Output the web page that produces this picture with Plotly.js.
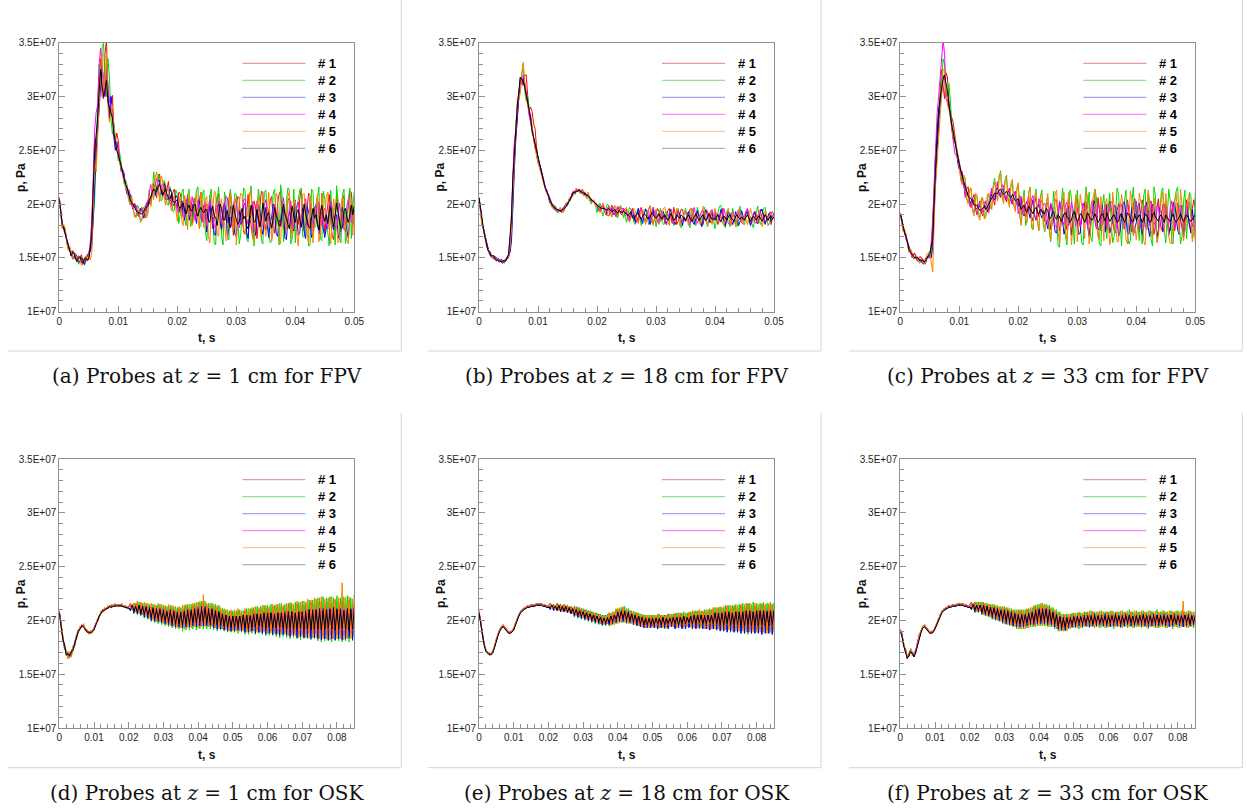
<!DOCTYPE html>
<html>
<head>
<meta charset="utf-8">
<script src="https://cdn.plot.ly/plotly-3.0.1.min.js"></script>
<style>
html, body { margin: 0; padding: 0; background: #ffffff; }
#chart { width: 1247px; height: 810px; }
</style>
</head>
<body>
<div id="chart"></div>
<script>
// Pressure histories at six probes, stored in bar (1 bar = 1e5 Pa).
// FPV runs are sampled every 0.25 ms, OSK runs every 0.5 ms.
const probeNames = ['# 1', '# 2', '# 3', '# 4', '# 5', '# 6'];
const dtFPV = 0.00025;
const dtOSK = 0.0005;

const captions = [
  '(a) Probes at <i>z</i> = 1 cm for FPV',
  '(b) Probes at <i>z</i> = 18 cm for FPV',
  '(c) Probes at <i>z</i> = 33 cm for FPV',
  '(d) Probes at <i>z</i> = 1 cm for OSK',
  '(e) Probes at <i>z</i> = 18 cm for OSK',
  '(f) Probes at <i>z</i> = 33 cm for OSK'
];
const yTickVals = [1e7, 1.5e7, 2e7, 2.5e7, 3e7, 3.5e7];
const yTickText = ['1E+07', '1.5E+07', '2E+07', '2.5E+07', '3E+07', '3.5E+07'];
const xTitle = 't, s';
const yTitle = 'p, Pa';

// ---- FPV, z = 1 cm ----
const fpv_z1_1 = [206,196,182,178,173,168,162,158,152,156,155,149,146,152,150,153,145,148,151,147,
  149,158,186,215,262,240,275,310,335,300,298,340,352,305,283,296,301,270,258,266,
  259,242,236,230,226,219,212,214,207,203,199,201,196,194,190,195,197,189,187,196,
  201,205,199,213,219,210,206,224,228,213,210,220,204,214,221,206,200,211,214,201,
  196,211,210,194,203,187,199,209,193,202,182,197,206,189,188,204,211,195,183,198,
  200,184,208,193,177,186,195,207,210,189,174,196,202,185,183,205,212,194,171,188,
  199,207,206,181,188,174,172,195,209,191,180,170,203,198,168,187,197,212,211,183,
  176,198,190,203,207,185,173,180,201,209,212,196,178,172,185,203,206,194,169,190,
  204,187,181,205,213,191,175,183,196,210,208,179,170,186,199,207,184,172,210,194,
  173,188,202,209,187,170,167,193,209,197,181,174,205,208,174,189,198,212,211,190, 179];
const fpv_z1_2 = [204,193,178,180,176,165,158,160,156,151,149,153,151,144,146,150,150,143,147,152,
  154,160,168,190,205,250,290,330,318,345,350,310,300,335,318,280,265,275,262,248,
  240,247,238,225,219,222,218,206,202,208,200,188,190,199,196,183,186,197,198,188,
  192,213,201,207,230,216,209,228,224,203,205,222,218,200,199,216,212,193,194,213,
  209,182,190,211,214,186,180,207,214,179,185,205,192,213,216,178,180,209,213,175,
  166,190,207,214,188,164,162,201,216,197,171,162,211,205,170,167,214,198,175,210,
  209,186,163,172,197,215,212,168,165,205,217,190,161,178,200,214,202,166,163,211,
  213,189,172,164,166,210,214,183,191,162,218,209,165,174,203,215,212,163,170,214,
  164,195,206,213,215,170,169,201,199,161,162,214,212,178,180,206,216,168,166,212,
  205,182,174,161,213,190,196,162,217,203,168,164,208,214,163,172,206,215,168,200, 211];
const fpv_z1_3 = [205,194,181,179,175,166,159,158,155,149,150,154,151,146,147,150,149,144,150,153,
  153,157,160,185,228,250,268,290,312,330,308,300,325,295,279,300,288,262,250,258,
  248,238,230,232,228,215,209,212,209,200,195,199,198,190,188,196,194,187,191,200,
  203,200,204,212,215,208,214,222,222,211,208,219,217,205,204,214,211,199,199,208,
  206,192,198,203,188,185,204,198,185,194,200,187,191,182,198,203,187,184,199,195,
  174,186,199,190,186,172,171,197,200,183,177,190,201,193,169,178,198,196,181,172,
  170,189,194,182,183,199,201,174,168,186,190,199,174,171,185,199,194,178,172,186,
  197,180,169,183,188,200,193,173,170,185,183,198,196,169,167,188,191,199,178,175,
  201,187,171,173,189,196,175,168,198,193,186,169,172,196,199,183,172,189,193,177,
  169,178,184,197,200,181,176,189,190,171,167,193,197,185,182,175,168,190,195,181, 195];
const fpv_z1_4 = [203,192,180,176,171,166,163,159,154,157,155,149,148,151,150,145,144,148,149,152,
  151,165,178,225,270,285,292,330,345,325,318,300,330,310,296,290,285,265,256,252,
  250,240,233,231,226,216,211,212,208,201,196,200,199,191,188,194,195,190,192,201,
  202,211,218,208,213,220,224,214,207,215,219,211,205,207,209,202,198,205,207,201,
  193,203,206,194,188,196,201,206,196,189,207,200,185,192,204,198,190,183,198,202,
  180,194,204,197,192,180,177,193,203,196,185,180,199,207,206,189,188,179,200,205,
  201,188,178,185,194,204,205,187,181,190,196,202,176,182,203,195,189,178,180,199,
  204,193,185,178,177,196,200,190,193,181,179,194,206,191,184,179,198,203,175,186,
  187,198,202,189,178,186,199,205,184,176,205,196,176,183,193,201,201,187,180,194,
  196,183,177,189,203,197,186,178,179,193,201,185,190,176,177,199,204,193,183,190, 183];
const fpv_z1_5 = [207,190,177,181,177,166,157,161,153,149,152,154,146,151,150,143,145,150,152,148,
  152,148,155,200,242,230,265,300,325,340,305,318,338,290,276,285,292,271,260,252,
  245,238,232,224,220,215,213,203,199,206,199,190,187,195,193,184,185,193,195,187,
  191,208,198,219,204,225,230,212,202,226,223,207,199,212,215,200,194,203,208,196,
  184,200,207,185,180,208,199,176,209,203,180,185,202,210,185,177,210,199,178,205,
  207,171,164,190,193,212,211,172,170,199,205,181,183,166,167,195,210,188,176,206,
  162,185,202,210,209,176,173,194,188,211,212,168,165,190,199,207,178,169,208,181,
  170,196,211,186,166,174,194,210,207,169,163,197,201,184,174,207,212,179,168,203,
  203,172,161,185,190,209,210,184,172,163,206,195,164,188,197,209,165,174,209,190,
  184,207,211,176,163,185,205,192,176,164,168,199,208,187,181,167,163,196,204,171, 204];
const fpv_z1_6 = [205,194,181,178,173,167,161,158,152,155,154,150,147,150,151,147,145,149,150,148,
  150,160,172,215,250,265,280,305,325,310,300,305,315,295,290,283,280,266,257,250,
  246,240,235,229,222,218,215,209,204,201,200,197,194,193,192,191,191,192,196,197,
  198,204,206,211,214,212,212,216,219,213,208,211,214,209,206,205,209,203,201,203,
  204,198,196,199,201,193,191,196,199,194,194,198,200,192,189,194,197,193,192,195,
  195,185,183,193,198,189,188,180,190,200,196,186,185,192,194,182,178,189,199,191,
  186,181,183,192,196,186,189,180,177,190,199,193,183,184,195,187,179,186,201,192,
  184,190,192,183,178,187,197,189,186,180,180,192,200,190,187,181,177,191,198,188,
  183,192,195,186,179,186,200,191,185,179,178,190,196,187,190,181,176,193,199,189,
  184,190,182,193,197,186,179,189,201,192,185,177,178,194,196,187,183,191,199,190, 199];

// ---- FPV, z = 18 cm ----
const fpv_z18_1 = [205,197,184,175,169,164,159,154,151,152,152,148,147,149,148,146,145,147,148,150,
  150,156,182,220,255,262,280,300,318,314,310,320,320,301,287,290,286,275,270,253,
  242,238,232,225,220,214,212,209,202,200,200,195,196,193,195,194,192,197,198,200,
  199,204,206,207,211,212,214,213,211,210,214,210,208,206,210,203,204,202,203,199,
  198,199,193,196,198,194,195,190,189,193,199,196,192,188,197,196,191,190,196,194,
  195,187,185,191,196,192,184,183,190,194,197,189,186,183,192,195,198,188,182,186,
  191,196,193,185,185,190,182,187,194,196,188,182,197,191,181,184,190,195,195,187,
  184,186,189,195,196,189,182,188,193,190,186,180,181,191,195,193,188,183,183,190,
  194,186,181,185,192,196,187,180,186,193,189,183,192,188,181,186,194,191,183,189,
  185,193,195,184,182,188,188,193,190,182,186,194,194,187,181,186,189,192,181,187, 189];
const fpv_z18_2 = [204,195,181,178,172,162,157,156,154,150,150,150,149,147,148,149,147,145,148,149,
  153,158,170,210,235,275,292,298,305,322,330,305,296,300,290,280,266,262,257,245,
  238,236,230,228,218,215,210,208,205,198,196,199,198,192,192,197,195,193,196,201,
  201,202,203,210,212,209,211,214,213,210,210,212,209,205,206,207,200,204,201,199,
  192,197,201,195,189,194,196,200,199,192,188,195,197,190,187,196,199,193,187,192,
  183,190,197,195,190,183,181,192,196,188,180,186,194,196,188,181,186,193,197,190,
  179,186,192,196,185,181,182,193,189,183,195,188,180,186,193,196,186,178,183,192,
  196,189,183,178,189,196,187,180,197,192,181,183,191,197,184,179,185,193,194,186,
  177,186,193,198,199,188,182,178,190,196,179,186,196,189,185,179,192,198,183,182,
  181,190,195,190,188,182,178,186,194,198,184,181,191,196,197,186,180,183,190,193, 190];
const fpv_z18_3 = [206,197,183,177,170,165,159,154,152,150,149,151,150,147,146,148,148,146,147,149,
  152,155,165,205,232,262,285,300,315,312,318,308,302,296,285,280,272,260,252,250,
  243,237,233,227,219,215,213,206,201,201,199,196,194,195,195,193,194,195,196,198,
  199,203,205,209,211,210,212,212,213,211,211,208,210,209,209,205,203,203,202,200,
  199,194,195,197,200,195,190,193,197,193,196,190,193,195,189,196,197,192,194,191,
  192,189,187,193,195,187,183,190,196,189,186,182,191,195,193,186,181,190,195,188,
  194,188,182,186,191,193,186,181,186,192,195,189,184,181,188,194,191,185,180,188,
  184,190,193,186,188,183,181,187,194,189,185,179,186,193,194,187,183,188,192,185,
  190,186,183,188,195,191,184,180,188,192,192,187,181,186,193,189,180,184,194,189,
  187,191,193,186,180,183,191,193,185,182,188,195,195,188,182,186,190,192,184,188, 191];
const fpv_z18_4 = [203,196,186,176,171,164,157,156,153,151,151,148,148,150,148,146,145,147,149,151,
  153,165,190,228,258,270,290,305,312,318,320,314,304,290,282,276,270,264,255,246,
  240,236,230,226,222,214,210,209,205,202,199,198,197,193,194,195,194,196,197,200,
  201,203,204,210,212,211,212,213,214,212,211,210,211,207,208,206,205,203,202,201,
  200,196,195,198,199,193,192,196,198,191,194,197,190,195,198,194,191,196,196,193,
  192,186,184,192,195,190,189,184,184,192,196,189,187,183,193,194,185,183,197,193,
  188,183,185,191,194,188,187,182,185,192,191,186,182,187,195,191,188,183,184,191,
  193,189,186,181,186,193,197,188,182,185,190,194,194,186,184,190,187,192,195,189,
  186,191,191,185,183,189,196,190,189,182,181,189,193,188,187,192,195,186,183,188,
  189,193,196,188,184,187,190,184,182,189,194,192,187,183,191,187,185,190,193,188, 192];
const fpv_z18_5 = [205,193,180,179,171,161,158,157,155,150,149,149,149,148,147,148,146,147,147,150,
  151,160,177,212,240,278,298,296,304,318,332,312,298,292,286,284,273,260,251,247,
  238,234,228,224,218,216,212,207,202,199,197,197,195,194,193,196,195,192,194,199,
  200,205,207,206,208,212,215,212,211,210,213,208,208,206,211,204,202,203,204,198,
  199,197,192,195,201,197,190,189,197,195,188,192,199,196,189,195,198,191,189,195,
  197,190,183,187,191,196,194,185,182,188,194,195,187,181,192,196,199,190,180,187,
  195,187,181,185,190,196,197,188,184,180,193,193,186,183,196,193,180,187,186,191,
  193,186,180,185,196,191,185,188,191,185,182,189,198,192,184,181,190,194,181,187,
  196,189,183,186,189,183,180,187,194,195,186,180,192,188,179,185,195,192,184,181,
  190,185,181,188,196,191,184,187,188,183,193,190,179,185,194,189,185,190,192,186, 190];
const fpv_z18_6 = [206,195,183,177,170,164,157,156,152,152,152,149,148,148,147,147,146,148,147,150,
  153,170,186,225,248,270,292,305,318,316,314,309,302,296,288,280,268,262,254,247,
  241,236,231,226,220,215,211,208,204,201,198,197,196,195,194,194,194,195,196,198,
  200,203,205,208,211,211,212,212,213,212,211,210,210,208,208,206,204,203,202,201,
  199,198,197,196,196,196,195,195,196,194,193,194,195,193,192,194,193,192,193,192,
  191,189,191,193,188,186,189,191,192,188,186,189,191,190,187,186,188,192,191,188,
  187,189,191,188,186,189,190,187,185,187,191,189,185,186,190,188,187,190,189,186,
  185,188,190,187,184,186,189,191,188,185,186,189,190,186,185,189,191,188,186,187,
  185,188,190,186,184,187,189,187,185,188,190,187,185,184,189,190,187,186,188,186,
  185,188,190,187,184,186,189,187,185,188,189,186,184,187,190,187,185,188,189,186, 188];

// ---- FPV, z = 33 cm ----
const fpv_z33_1 = [192,185,179,171,167,164,159,155,151,154,154,148,147,151,151,145,145,149,152,150,
  150,160,182,215,252,260,268,305,325,310,298,322,318,295,283,280,275,262,250,246,
  240,232,230,219,208,214,216,203,197,205,209,196,190,199,203,192,189,198,202,194,
  192,204,213,205,199,212,219,210,206,218,216,206,202,211,215,205,200,210,212,204,
  199,208,190,195,199,186,196,209,193,187,184,200,206,194,188,203,203,190,184,199,
  201,191,176,183,193,204,204,190,175,181,197,203,182,176,205,198,173,182,194,203,
  205,188,179,186,188,202,202,185,172,180,196,204,184,177,206,196,175,183,190,200,
  176,190,203,197,186,175,173,194,201,188,191,178,177,197,204,190,182,174,199,205,
  195,180,174,190,204,196,181,176,190,201,203,186,172,180,197,205,185,176,176,198,
  203,190,179,175,194,202,175,184,201,196,186,177,174,191,204,193,180,175,196,204, 196];
const fpv_z33_2 = [190,184,175,173,171,162,156,158,155,149,150,152,150,145,146,149,146,144,149,153,
  156,152,168,210,250,268,282,300,315,335,330,306,300,312,292,275,268,258,250,240,
  236,228,221,226,224,206,201,213,214,196,192,208,207,190,188,205,204,187,190,206,
  209,196,197,218,224,208,204,225,231,210,203,222,227,206,200,216,221,198,195,213,
  219,188,181,204,213,180,186,210,216,178,176,205,214,182,176,207,213,181,174,200,
  207,175,165,190,212,194,188,161,160,198,215,198,170,162,188,213,207,181,163,195,
  213,187,181,164,162,200,216,196,211,170,165,189,214,205,176,163,161,198,209,182,
  168,196,210,182,164,170,193,215,209,178,161,192,205,213,172,163,166,202,216,190,
  201,183,166,187,163,208,214,176,210,192,167,161,216,207,165,175,197,212,215,175,
  164,190,214,203,165,163,201,212,216,185,163,170,202,213,168,186,211,208,168,172, 211];
const fpv_z33_3 = [191,186,178,173,168,165,160,157,152,150,150,151,149,147,149,149,146,145,150,151,
  152,150,160,195,228,250,278,290,305,318,320,300,296,290,284,270,260,258,254,238,
  232,230,227,218,213,212,209,203,201,205,202,195,196,200,197,192,193,199,198,193,
  196,205,209,206,204,213,215,209,207,214,213,206,205,212,211,203,200,209,208,200,
  198,203,205,191,189,200,202,193,187,198,204,190,185,196,200,191,187,194,190,183,
  177,189,200,195,186,174,173,191,202,196,181,172,178,196,198,185,171,180,195,188,
  184,172,173,192,201,199,189,175,170,181,193,200,203,188,176,177,187,199,184,174,
  200,186,173,179,184,199,198,187,170,175,192,201,202,190,174,172,188,197,171,176,
  183,197,201,186,172,178,195,202,179,170,189,200,197,181,170,176,197,193,174,179,
  199,186,171,178,187,200,202,187,176,172,193,199,169,178,198,190,181,173,195,184, 172];
const fpv_z33_4 = [189,185,180,172,166,163,159,156,150,153,153,149,147,149,148,145,144,148,151,152,
  150,165,180,220,262,285,300,315,330,352,340,298,295,290,280,270,262,247,245,242,
  238,224,219,222,206,211,209,198,197,203,201,194,192,200,199,191,195,202,203,196,
  202,209,215,204,208,219,221,209,207,218,217,208,204,212,213,206,200,208,211,203,
  191,200,207,198,190,200,203,194,195,205,208,190,186,196,205,199,192,200,201,193,
  182,194,201,192,190,180,178,191,203,197,184,181,199,202,180,183,202,196,188,180,
  197,187,179,189,201,195,187,179,181,196,203,189,185,178,200,195,191,181,188,199,
  179,190,198,202,202,188,183,177,193,200,200,184,177,184,200,197,188,181,181,194,
  203,193,186,178,178,194,199,190,192,180,202,197,184,178,197,200,179,186,200,192,
  195,184,181,196,203,191,178,183,190,198,199,186,182,179,187,201,201,188,179,185, 179];
const fpv_z33_5 = [192,183,174,176,172,161,155,158,154,150,149,151,148,146,148,150,146,145,153,155,
  155,146,137,185,222,240,268,282,300,325,325,302,292,288,283,270,262,265,257,245,
  233,222,218,227,224,205,200,214,215,193,189,210,209,188,185,206,206,186,188,209,
  210,198,195,215,220,209,203,227,229,207,200,222,225,203,197,219,223,199,193,215,
  220,190,180,201,208,185,183,211,215,182,177,205,211,185,175,208,210,180,176,201,
  210,177,167,185,191,210,213,174,164,188,206,211,175,166,211,193,162,178,198,209,
  165,190,209,199,188,168,212,206,163,176,200,208,214,184,170,167,207,189,166,201,
  205,183,162,170,211,196,178,165,165,195,209,201,190,167,163,186,212,205,171,180,
  167,180,210,202,197,166,162,188,213,204,176,168,206,192,164,170,190,206,211,172,
  210,193,170,164,163,188,204,210,188,173,214,199,166,176,195,205,209,182,165,184, 164];
const fpv_z33_6 = [191,185,177,173,170,164,157,155,153,152,150,150,150,148,147,148,146,147,150,152,
  154,160,168,205,240,265,288,300,308,316,320,312,305,292,280,272,266,258,251,244,
  237,231,225,221,217,211,207,206,205,202,199,199,199,196,194,195,197,198,195,197,
  200,203,205,208,210,210,210,213,214,211,209,210,212,209,207,206,209,206,203,204,
  205,199,195,198,199,194,193,198,196,193,191,195,197,192,191,195,194,191,192,196,
  194,186,187,192,193,187,186,190,188,184,186,191,192,188,187,183,185,191,193,188,
  184,186,191,190,186,183,187,192,189,186,185,189,191,187,183,185,190,191,187,184,
  192,188,184,186,189,190,186,183,184,190,191,187,183,186,192,190,186,184,184,191,
  185,188,190,187,183,186,191,189,187,183,184,190,192,188,186,184,189,190,186,183,
  190,187,185,184,188,191,186,183,185,189,191,187,184,187,190,188,185,184,186,189, 190];

// ---- OSK, z = 1 cm ----
const osk_z1_1 = [209,194,186,173,172,165,170,167,176,177,187,189,194,194,196,191,191,188,190,189,193,195,201,203,208,208,211,210,213,212,214,213,215,213,215,213,215,212,214,211,213,
  216,210,216,208,217,207,216,206,215,205,214,204, 214,202,213,201,214,200,213,199,212,198,213,197, 212,196,211,195,211,195,212,194,213,195,213,195, 214,196,215,195,216,196,217,196,214,196,214,195,
  213,195,212,194,210,194,209,193,208,192,208,192, 208,192,209,192,207,192,209,191,209,191,210,192, 211,191,210,191,212,191,212,190,211,190,213,190, 213,189,214,189,212,189,214,188,215,188,213,188,
  215,187,216,187,214,187,216,188,217,188,215,188, 217,187,218,186,216,187,218,187,217,186,219,187, 217,187,218,186,217,188,219,187,216,186,218,187];
const osk_z1_2 = [207,198,181,179,167,171,165,173,171,182,183,192,192,196,194,193,189,190,188,191,191,197,199,205,206,210,209,212,211,214,212,215,213,215,213,215,213,214,212,213,211,
  209,215,206,216,205,217,204,216,202,216,201,215, 199,215,198,214,197,215,196,214,195,213,194,214, 193,213,192,212,192,212,190,214,191,215,191,215, 192,216,191,217,192,218,192,218,192,216,192,216,
  191,215,190,214,191,211,190,210,189,209,189,209, 189,209,188,210,189,209,187,211,187,211,188,212, 187,213,188,213,187,214,186,214,186,215,186,214, 185,215,184,216,185,215,184,216,183,216,184,217,
  183,217,182,218,183,217,183,219,182,219,183,220, 181,221,180,222,181,221,181,222,180,221,181,223, 181,221,180,222,181,223,180,221,181,224,180,222];
const osk_z1_3 = [208,195,185,175,171,167,169,169,175,178,186,190,193,195,195,192,190,189,189,190,192,196,200,204,207,209,210,211,212,213,213,214,214,214,214,214,214,213,213,212,212,
  209,213,207,213,206,214,205,213,203,213,202,212, 200,212,199,211,199,211,198,210,197,209,196,210, 195,209,194,208,194,208,193,209,194,210,194,210, 195,211,194,212,195,213,195,213,195,211,195,211,
  193,209,192,208,192,206,191,205,190,204,190,204, 190,204,191,204,190,203,189,205,189,205,190,206, 188,206,189,206,188,205,187,207,188,207,187,206, 187,207,186,207,187,208,186,208,185,208,186,207,
  184,208,185,208,184,209,184,210,183,210,184,209, 183,211,182,211,183,210,182,211,183,212,182,211, 183,211,182,210,183,211,184,211,182,212,183,210];
const osk_z1_4 = [208,197,183,177,169,170,166,172,173,180,184,191,192,196,194,193,190,189,188,190,192,197,200,204,206,210,210,211,211,213,212,214,213,214,214,213,214,212,213,211,212,
  214,210,214,208,215,207,214,206,213,205,212,204, 212,202,211,201,212,200,211,199,210,198,210,198, 209,197,208,196,208,196,209,195,210,196,210,196, 211,197,212,196,213,197,213,197,211,197,211,197,
  210,196,209,195,207,195,206,194,205,193,205,193, 205,193,206,193,205,192,206,192,206,193,207,193, 208,192,207,192,208,193,208,192,209,192,208,191, 209,191,210,191,209,192,210,190,211,190,210,191,
  210,190,211,189,210,190,212,190,211,189,212,190, 213,189,212,190,213,189,214,189,213,190,212,189, 213,189,214,190,213,188,212,189,213,190,214,189];
const osk_z1_5 = [209,195,186,174,173,164,171,166,177,176,188,188,195,193,197,190,192,187,191,188,194,195,202,202,209,207,212,210,214,212,215,213,216,213,215,214,216,212,214,212,213,
  216,210,216,208,218,206,217,205,217,203,216,202, 216,200,215,199,216,198,215,197,214,196,215,195, 214,194,213,193,213,193,214,192,215,193,215,193, 216,194,217,193,218,194,224,194,216,194,216,194,
  215,193,214,192,212,192,211,191,210,190,210,190, 210,190,211,190,209,190,211,189,211,189,212,190, 213,189,212,189,214,189,214,188,213,188,215,188, 215,187,216,187,214,187,216,186,217,186,215,186,
  218,184,217,185,218,184,220,184,219,184,221,184, 221,183,222,183,220,183,221,182,222,183,220,183, 221,183,235,182,221,183,222,183,220,184,221,183];
const osk_z1_6 = [207,196,183,177,168,169,167,171,173,179,184,190,192,195,194,192,189,189,188,190,191,196,199,204,206,209,209,211,211,213,212,213,213,214,213,214,213,213,212,212,211,
  210,214,209,213,208,214,207,213,206,212,205,211, 203,211,202,210,202,210,201,209,200,208,199,209, 198,208,197,207,197,207,196,208,197,209,197,209, 198,210,198,210,199,211,199,211,198,210,198,210,
  197,209,196,208,196,206,195,205,194,204,194,204, 194,204,195,204,194,205,193,205,193,204,194,206, 194,206,195,206,194,207,193,207,194,207,193,206, 193,207,194,207,193,206,192,208,193,208,192,207,
  192,208,193,208,192,207,192,210,191,209,192,210, 192,210,191,209,192,210,193,210,192,211,191,210, 192,210,193,209,192,210,191,210,192,211,192,210];

// ---- OSK, z = 18 cm ----
const osk_z18_1 = [209,196,187,177,173,169,170,168,172,175,183,186,192,193,196,192,192,188,190,189,193,196,202,204,209,209,212,211,214,212,215,213,215,214,216,214,216,213,215,212,214,
  216,212,215,211,216,210,215,209,215,209,214,208, 213,207,213,205,212,204,211,203,210,202,209,201, 208,200,207,199,206,198,205,197,205,197,207,197, 208,198,210,200,211,201,211,201,210,200,209,199,
  208,198,207,197,206,196,205,195,205,195,205,195, 205,195,206,195,205,196,205,195,206,195,206,196, 206,196,207,196,206,195,206,196,207,197,208,196, 208,196,209,196,208,195,209,195,210,195,211,195,
  211,195,212,195,212,194,213,194,212,194,213,193, 213,193,214,193,214,192,215,192,214,192,213,192, 214,192,215,192,214,191,214,192,215,192,214,191];
const osk_z18_2 = [207,198,185,179,171,171,168,170,170,177,181,188,190,195,194,194,190,190,188,191,191,198,200,206,207,211,210,213,212,214,213,215,213,216,214,216,214,215,213,214,212,
  211,215,210,214,209,215,208,214,208,214,207,213, 206,212,203,213,202,212,201,211,200,210,199,209, 198,208,197,207,196,206,195,205,195,206,195,207, 196,208,197,211,198,212,198,213,197,211,197,209,
  196,208,195,207,194,206,193,205,193,205,194,205, 193,205,193,206,193,205,192,205,193,206,194,206, 193,207,194,207,193,208,193,207,194,208,193,209, 193,209,192,209,193,210,192,210,191,210,192,212,
  192,212,191,212,190,214,190,214,189,214,189,215, 189,215,188,216,188,216,187,216,188,217,188,216, 188,216,187,217,188,216,188,217,187,216,188,218];
const osk_z18_3 = [208,197,186,178,172,170,169,169,171,176,182,187,191,194,195,193,191,189,189,190,192,197,201,205,208,210,211,212,213,213,214,214,214,215,215,215,215,214,214,213,213,
  210,214,209,213,209,213,208,212,208,212,207,211, 206,210,204,210,203,209,202,208,201,207,200,206, 199,205,198,204,197,203,196,202,196,203,196,204, 197,205,198,208,199,209,199,209,198,208,198,206,
  196,204,195,203,194,202,193,201,193,201,193,202, 193,201,192,201,193,202,193,201,192,201,194,202, 192,202,193,202,192,203,192,202,193,203,192,204, 192,204,193,204,192,205,192,204,191,204,192,206,
  191,205,190,205,190,206,189,206,190,206,189,207, 189,207,188,207,188,208,189,208,188,207,188,208, 188,208,187,208,188,209,188,208,187,208,188,209];
const osk_z18_4 = [208,196,186,178,172,170,168,170,171,176,182,188,191,194,195,192,191,189,188,190,192,197,201,205,207,210,211,212,212,213,214,213,214,215,214,215,215,214,213,213,212,
  214,212,213,211,214,210,213,209,213,209,212,208, 211,207,211,205,210,204,209,203,208,202,207,201, 206,200,205,199,204,198,203,197,203,198,205,197, 206,198,208,200,209,201,209,202,208,200,207,199,
  206,198,205,197,204,196,203,195,203,195,204,195, 203,195,203,196,204,195,203,195,203,196,204,196, 204,196,205,196,204,197,204,196,205,197,206,196, 206,196,207,196,206,195,207,195,208,196,208,196,
  208,196,209,196,209,195,210,195,209,195,210,194, 210,194,211,194,210,194,210,193,211,194,210,194, 210,194,211,194,210,193,211,194,210,194,211,193];
const osk_z18_5 = [209,197,187,178,173,170,170,169,172,176,183,187,192,194,196,193,192,189,190,190,193,197,202,205,208,210,212,212,214,213,215,214,215,215,216,215,216,214,215,213,214,
  215,211,214,210,215,209,214,208,214,208,213,207, 212,206,212,204,211,203,210,202,209,201,208,200, 207,199,206,198,205,197,204,196,204,197,207,195, 208,196,211,197,212,198,213,198,211,197,209,197,
  208,196,207,195,206,194,205,193,205,193,205,194, 205,193,206,193,205,193,204,193,205,194,206,194, 207,193,206,194,207,193,207,194,208,194,209,193, 209,193,210,193,209,192,210,192,211,192,212,192,
  212,192,213,191,213,191,214,191,214,190,214,190, 214,190,215,190,215,189,216,189,215,189,216,189, 215,189,216,189,215,188,216,189,215,189,217,189];
const osk_z18_6 = [207,196,185,177,171,169,168,168,170,175,181,186,190,193,194,192,190,188,188,189,191,196,200,204,207,209,210,211,212,212,213,213,213,214,214,214,214,213,213,212,212,
  212,214,211,213,210,214,209,213,209,213,208,212, 207,211,206,210,205,209,204,208,203,207,202,206, 201,205,200,204,199,203,198,202,198,202,198,204, 199,205,201,207,202,208,202,208,201,207,200,206,
  199,205,198,204,197,203,196,202,196,202,196,202, 196,202,197,202,196,203,196,202,197,202,197,203, 197,203,196,203,197,204,197,203,198,204,197,205, 197,205,198,205,197,204,197,205,198,205,197,207,
  197,207,196,207,196,208,197,208,196,207,196,208, 196,208,195,208,195,209,196,209,195,208,195,209, 195,209,196,209,195,208,195,209,196,209,195,208];

// ---- OSK, z = 33 cm ----
const osk_z33_1 = [192,188,176,174,164,170,173,168,169,170,181,185,191,193,196,192,192,188,190,189,194,196,202,204,209,209,212,211,214,212,215,213,215,214,216,214,216,213,215,212,214,
  217,211,217,209,217,209,217,207,216,206,215,205, 214,204,213,203,212,202,212,200,211,199,210,198, 209,197,209,195,209,195,209,195,210,196,211,197, 213,197,214,198,214,198,214,198,213,197,211,197,
  209,195,207,193,205,193,205,193,205,195,206,196, 206,196,207,196,206,196,207,197,207,196,208,197, 207,197,206,196,207,197,208,197,207,196,207,197, 208,197,207,196,207,197,206,197,208,196,207,197,
  207,197,208,196,207,197,207,196,208,197,206,197, 207,196,208,197,207,197,206,196,208,197,207,196, 207,197,208,196,207,197,208,197,206,196,207,197];
const osk_z33_2 = [190,185,179,170,168,166,174,167,170,173,177,188,189,195,194,194,190,190,188,191,192,198,200,206,207,211,210,213,212,214,213,215,213,216,214,216,214,215,213,214,212,
  210,216,207,217,207,217,205,217,204,216,203,215, 201,215,200,214,199,213,197,213,196,212,195,211, 194,210,192,210,192,210,192,210,193,211,194,212, 194,214,195,215,195,216,195,215,194,214,194,212,
  192,210,190,208,190,206,190,206,192,206,193,207, 193,207,192,207,193,208,194,208,193,209,194,208, 194,208,193,209,194,208,193,208,194,209,192,208, 194,208,193,209,194,208,193,210,194,208,193,209,
  194,208,193,209,194,208,192,209,194,208,193,210, 193,208,194,209,193,208,194,209,192,208,194,209, 193,209,194,208,193,209,194,208,193,209,194,208];
const osk_z33_3 = [191,186,177,172,166,168,172,170,167,172,179,186,190,194,195,193,191,189,189,190,193,197,201,205,208,210,211,212,213,213,214,214,214,215,215,215,215,214,214,213,213,
  210,214,208,214,208,214,206,214,205,213,204,212, 202,212,201,211,200,210,198,210,197,209,196,208, 195,207,194,206,194,206,194,206,195,207,196,208, 196,210,197,211,197,211,197,211,196,210,196,208,
  194,206,192,204,191,203,191,203,193,203,194,204, 194,204,195,204,194,205,195,205,194,205,195,206, 195,205,196,205,195,206,195,205,194,205,195,206, 195,205,194,205,195,206,196,205,195,204,195,205,
  196,205,195,206,195,205,194,205,195,206,195,205, 195,205,196,206,195,205,194,205,195,206,196,205, 195,205,194,205,195,206,195,205,196,205,195,206];
const osk_z33_4 = [191,187,176,173,165,169,171,171,166,173,178,187,190,194,195,192,191,189,188,190,193,197,201,205,207,210,211,212,212,213,214,213,214,215,214,215,215,214,213,213,212,
  215,211,215,209,215,209,215,207,214,206,213,205, 212,204,211,203,210,202,210,200,209,199,208,198, 207,197,207,195,207,195,207,195,208,196,209,197, 210,198,211,199,211,199,212,199,210,198,209,197,
  207,195,205,193,203,193,203,193,203,195,204,196, 204,196,205,196,204,196,205,197,205,197,206,197, 205,197,206,197,205,196,205,197,206,197,205,196, 205,197,206,197,205,197,206,196,205,197,206,197,
  205,197,205,196,206,197,205,197,206,197,205,196, 206,197,205,197,205,196,206,197,205,197,206,196, 205,197,206,197,205,196,206,197,205,197,206,197];
const osk_z33_5 = [192,186,178,171,167,167,173,169,168,171,180,186,191,194,196,193,192,189,190,190,194,197,202,205,208,210,212,212,214,213,215,214,215,215,216,215,216,214,215,213,214,
  216,210,216,208,216,208,217,205,216,204,215,203, 215,201,214,200,213,199,213,197,212,196,211,195, 210,194,210,192,210,192,210,192,211,193,212,194, 214,194,215,195,216,195,215,195,214,194,212,194,
  210,192,208,190,206,190,206,190,206,192,207,193, 207,193,208,193,207,194,208,194,209,194,208,193, 208,194,209,194,208,193,208,194,209,194,208,194, 208,194,209,193,208,194,209,194,208,193,209,194,
  208,194,209,194,208,193,209,194,208,194,209,193, 208,194,209,194,208,193,209,194,208,194,209,193, 208,194,218,194,208,193,209,194,208,194,209,193];
const osk_z33_6 = [190,185,176,171,165,167,171,169,166,171,178,185,189,193,194,192,190,188,188,189,192,196,200,204,207,209,210,211,212,212,213,213,213,214,214,214,214,213,213,212,212,
  211,215,210,214,210,214,208,214,207,213,206,212, 205,211,204,210,203,209,201,209,200,208,199,207, 198,206,197,205,197,205,197,205,198,206,199,207, 199,209,200,210,200,210,200,210,199,209,199,207,
  197,205,195,203,194,202,194,202,196,202,197,203, 197,203,198,203,197,203,198,204,198,204,197,204, 198,204,198,203,198,204,197,204,198,204,198,205, 198,204,197,204,198,204,198,205,198,204,197,204,
  198,204,198,205,198,204,197,204,198,204,198,205, 198,204,197,204,198,204,198,205,198,204,197,204, 198,204,198,205,198,204,197,204,198,204,198,205];

// ---- drawing ----
const panels = [
  { series: [fpv_z1_1, fpv_z1_2, fpv_z1_3, fpv_z1_4, fpv_z1_5, fpv_z1_6], dt: dtFPV, tMax: 0.05 },
  { series: [fpv_z18_1, fpv_z18_2, fpv_z18_3, fpv_z18_4, fpv_z18_5, fpv_z18_6], dt: dtFPV, tMax: 0.05 },
  { series: [fpv_z33_1, fpv_z33_2, fpv_z33_3, fpv_z33_4, fpv_z33_5, fpv_z33_6], dt: dtFPV, tMax: 0.05 },
  { series: [osk_z1_1, osk_z1_2, osk_z1_3, osk_z1_4, osk_z1_5, osk_z1_6], dt: dtOSK, tMax: 0.085 },
  { series: [osk_z18_1, osk_z18_2, osk_z18_3, osk_z18_4, osk_z18_5, osk_z18_6], dt: dtOSK, tMax: 0.085 },
  { series: [osk_z33_1, osk_z33_2, osk_z33_3, osk_z33_4, osk_z33_5, osk_z33_6], dt: dtOSK, tMax: 0.085 }
];

const W = 1247, H = 810;
const colLeft = [59.3, 479, 900.3];
const rowTop = [42.7, 459];
const plotW = 295, plotH = 269;
const lineColors = ['#ff0000', '#00dd00', '#0000ff', '#ff00ff', '#ff8000', '#000000'];
const keyColors = ['#e89a9a', '#8ee48e', '#a4a4f2', '#ff86ff', '#ffc898', '#b4b4b4'];
const axisGray = '#8f8f8f';
const frameGray = '#d6d6d6';
const sansFont = 'Liberation Sans, Arial, Helvetica, sans-serif';

const fx = p => p / W;
const fy = p => 1 - p / H;

const traces = [];
const shapes = [];
const annotations = [];
const layout = {
  width: W, height: H,
  margin: { l: 0, r: 0, t: 0, b: 0 },
  paper_bgcolor: '#ffffff', plot_bgcolor: '#ffffff',
  showlegend: false
};

panels.forEach((pan, k) => {
  const row = Math.floor(k / 3), col = k % 3;
  const suf = k === 0 ? '' : String(k + 1);
  const L = colLeft[col], T = rowTop[row];

  pan.series.forEach((vals, j) => {
    traces.push({
      type: 'scatter', mode: 'lines',
      x: vals.map((_, i) => +(i * pan.dt).toFixed(6)),
      y: vals.map(v => v * 1e5),
      xaxis: 'x' + suf, yaxis: 'y' + suf,
      name: probeNames[j],
      line: { color: lineColors[j], width: 1 },
      hoverinfo: 'skip', showlegend: false
    });
  });

  layout['xaxis' + suf] = {
    domain: [fx(L), fx(L + plotW)], anchor: 'y' + suf,
    range: [0, pan.tMax],
    tickmode: 'linear', tick0: 0, dtick: 0.01,
    ticks: 'inside', ticklen: 6, tickwidth: 1, tickcolor: axisGray,
    minor: { ticks: 'inside', tickmode: 'linear', tick0: 0, dtick: 0.002, ticklen: 4, tickcolor: axisGray, showgrid: false },
    showline: true, linecolor: axisGray, linewidth: 1, mirror: true,
    showgrid: false, zeroline: false, fixedrange: true,
    tickfont: { family: sansFont, size: 10, color: '#1e1e1e' }
  };
  layout['yaxis' + suf] = {
    domain: [fy(T + plotH), fy(T)], anchor: 'x' + suf,
    range: [1e7, 3.5e7],
    tickmode: 'array', tickvals: yTickVals, ticktext: yTickText,
    ticks: 'inside', ticklen: 6, tickwidth: 1, tickcolor: axisGray,
    minor: { ticks: 'inside', tickmode: 'linear', tick0: 1e7, dtick: 1e6, ticklen: 4, tickcolor: axisGray, showgrid: false },
    showline: true, linecolor: axisGray, linewidth: 1, mirror: true,
    showgrid: false, zeroline: false, fixedrange: true,
    tickfont: { family: sansFont, size: 10, color: '#1e1e1e' }
  };

  // axis titles
  annotations.push({
    xref: 'paper', yref: 'paper', x: fx(L - 38.6), y: fy(T + plotH / 2),
    text: '<b>' + yTitle + '</b>', textangle: -90, showarrow: false,
    xanchor: 'center', yanchor: 'middle',
    font: { family: sansFont, size: 12, color: '#111' }
  });
  annotations.push({
    xref: 'paper', yref: 'paper', x: fx(L + plotW / 2), y: fy(T + plotH + 26.5),
    text: '<b>' + xTitle + '</b>', showarrow: false,
    xanchor: 'center', yanchor: 'middle',
    font: { family: sansFont, size: 12, color: '#111' }
  });

  // probe key in the upper right of each panel
  probeNames.forEach((nm, j) => {
    const yy = T + 20.6 + 17 * j;
    shapes.push({
      type: 'line', xref: 'paper', yref: 'paper',
      x0: fx(L + 183), x1: fx(L + 246), y0: fy(yy), y1: fy(yy),
      line: { color: keyColors[j], width: 1.2 }
    });
    annotations.push({
      xref: 'paper', yref: 'paper', x: fx(L + 256.5), y: fy(yy),
      text: '<b>' + nm + '</b>', showarrow: false,
      xanchor: 'left', yanchor: 'middle',
      font: { family: sansFont, size: 13, color: '#000' }
    });
  });

  // sub-figure caption
  annotations.push({
    xref: 'paper', yref: 'paper', x: fx(L + plotW / 2), y: fy(T + plotH + 64.5),
    text: captions[k], showarrow: false,
    xanchor: 'center', yanchor: 'middle',
    font: { family: 'DejaVu Serif, serif', size: 20, color: '#111' }
  });

  // light frame edges of each sub-figure
  const frameLeft = L - 51.3, frameRight = L + 342;
  const frameTop = row === 0 ? 0 : 413, frameBottom = row === 0 ? 351 : 767.7;
  shapes.push({
    type: 'line', xref: 'paper', yref: 'paper',
    x0: fx(frameLeft), x1: fx(frameRight), y0: fy(frameBottom), y1: fy(frameBottom),
    line: { color: frameGray, width: 1 }
  });
  shapes.push({
    type: 'line', xref: 'paper', yref: 'paper',
    x0: fx(frameRight), x1: fx(frameRight), y0: fy(frameTop), y1: fy(frameBottom),
    line: { color: frameGray, width: 1 }
  });
});

layout.shapes = shapes;
layout.annotations = annotations;

Plotly.newPlot('chart', traces, layout, { staticPlot: true, displayModeBar: false });
</script>
</body>
</html>
